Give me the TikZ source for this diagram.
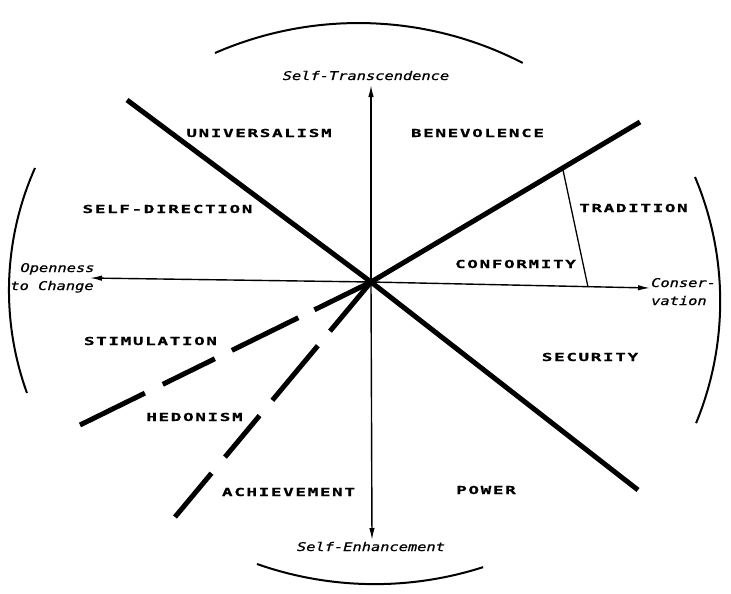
\documentclass[tikz,border=0pt]{standalone}
\usepackage{fontspec}
\usetikzlibrary{arrows.meta}
\newfontfamily\capsfont[FakeStretch=1.6,LetterSpace=15,FakeBold=0.6]{DejaVu Sans Mono}
\newfontfamily\axfont[FakeStretch=1.28,FakeBold=0.8]{DejaVu Sans Mono}
\tikzset{
  valuelabel/.style={font=\capsfont\bfseries\fontsize{11}{13}\selectfont, inner sep=0pt},
  dimlabel/.style={font=\axfont\itshape\fontsize{12}{14}\selectfont, inner sep=0pt},
  axisline/.style={line width=1.4pt, -{Latex[length=12pt,width=5.5pt]}},
  divider/.style={line width=5pt},
  thinline/.style={line width=1.3pt},
  arcline/.style={line width=2pt},
}
\begin{document}
\begin{tikzpicture}[x=1pt,y=-1pt]
\fill[white] (0,0) rectangle (731,594);
\useasboundingbox (0,0) rectangle (731,594);
% key points
\coordinate (c) at (371,282);
\coordinate (top) at (371,85);
\coordinate (bot) at (372,540);
\coordinate (lft) at (90,278);
\coordinate (rgt) at (650,288);
\coordinate (ul) at (127,100);
\coordinate (lr) at (638,490);
\coordinate (ur) at (640,122);
\coordinate (d1) at (80,425);
\coordinate (d2) at (175,517);
\coordinate (t1) at (563,170);
\coordinate (t2) at (588,287);
% arc start points
\coordinate (arcT) at (215,53);
\coordinate (arcB) at (257,564);
\coordinate (arcL) at (35,168);
\coordinate (arcR) at (695,177);
% axes
\draw[axisline] (c) -- (top);
\draw[axisline] (c) -- (bot);
\draw[axisline] (c) -- (lft);
\draw[axisline] (c) -- (rgt);
% dividers
\draw[divider] (c) -- (ul);
\draw[divider] (c) -- (lr);
\draw[divider] (c) -- (ur);
\draw[divider, dash pattern=on 63pt off 18pt on 74pt off 19pt on 58pt off 20pt on 80pt] (c) -- (d1);
\draw[divider, dash pattern=on 64pt off 19pt on 71pt off 20pt on 54pt off 21pt on 60pt] (c) -- (d2);
\draw[thinline] (t1) -- (t2);
% outer arcs
\draw[arcline] (arcT) arc[start angle=113.6, end angle=62.7, radius=358.2pt];
\draw[arcline] (arcB) arc[start angle=-109.4, end angle=-72.2, radius=354.4pt];
\draw[arcline] (arcL) arc[start angle=156.0, end angle=199.9, radius=301.1pt];
\draw[arcline] (arcR) arc[start angle=22.9, end angle=-22.4, radius=319.6pt];
% value labels
\node[valuelabel] (univ) at (259,133) {UNIVERSALISM};
\node[valuelabel] (bene) at (477.5,133) {BENEVOLENCE};
\node[valuelabel] (sdir) at (167.5,209) {SELF-DIRECTION};
\node[valuelabel] (trad) at (633.5,208) {TRADITION};
\node[valuelabel] (conf) at (515.5,264) {CONFORMITY};
\node[valuelabel] (secu) at (590,357) {SECURITY};
\node[valuelabel] (stim) at (150.5,341) {STIMULATION};
\node[valuelabel] (hedo) at (194.5,417) {HEDONISM};
\node[valuelabel] (achi) at (288.5,492) {ACHIEVEMENT};
\node[valuelabel] (powr) at (486,490) {POWER};
% dimension labels
\node[dimlabel, anchor=base] (strans) at (366,80) {Self-Transcendence};
\node[dimlabel, anchor=base] (senh) at (371,551) {Self-Enhancement};
\node[dimlabel, anchor=base] (open1) at (57.5,272) {Openness};
\node[dimlabel, anchor=base] (open2) at (52,290) {to Change};
\node[dimlabel, anchor=base west] (cons1) at (651,287) {Conser-};
\node[dimlabel, anchor=base west] (cons2) at (651,305) {vation};
\end{tikzpicture}
\end{document}
